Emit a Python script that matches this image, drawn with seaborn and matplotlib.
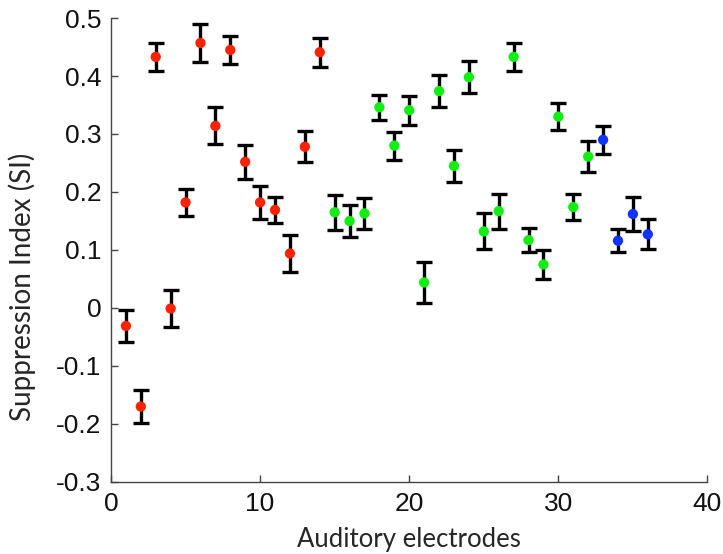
import matplotlib
matplotlib.use("Agg")
import matplotlib.pyplot as plt
import seaborn as sns
import pandas as pd

electrodes = list(range(1, 37))
si_values = [-0.031, -0.170, 0.433, -0.001, 0.182, 0.457, 0.314, 0.445, 0.252, 0.182,
             0.169, 0.094, 0.278, 0.441, 0.165, 0.150, 0.163, 0.346, 0.280, 0.341,
             0.044, 0.374, 0.245, 0.398, 0.132, 0.167, 0.433, 0.117, 0.075, 0.330,
             0.174, 0.261, 0.290, 0.116, 0.162, 0.127]
si_errors = [0.027, 0.029, 0.024, 0.032, 0.024, 0.033, 0.032, 0.024, 0.029, 0.029,
             0.023, 0.032, 0.027, 0.025, 0.030, 0.028, 0.027, 0.022, 0.024, 0.025,
             0.036, 0.028, 0.028, 0.028, 0.031, 0.030, 0.024, 0.021, 0.025, 0.023,
             0.022, 0.027, 0.024, 0.020, 0.030, 0.026]
groups = ["A"] * 14 + ["B"] * 18 + ["C"] * 4
group_colors = {"A": "#ff2200", "B": "#11ee11", "C": "#1133ff"}
x_ticks = [0, 10, 20, 30, 40]
y_ticks = [-0.3, -0.2, -0.1, 0, 0.1, 0.2, 0.3, 0.4, 0.5]
y_tick_labels = ["-0.3", "-0.2", "-0.1", "0", "0.1", "0.2", "0.3", "0.4", "0.5"]

df = pd.DataFrame({"electrode": electrodes, "si": si_values, "err": si_errors, "group": groups})

sns.set_style("ticks")
plt.rcParams["font.family"] = ["Liberation Sans", "DejaVu Sans"]
fig = plt.figure(figsize=(7.23, 5.54), dpi=100)
ax = fig.add_axes([0.1535, 0.130, 0.825, 0.8375])

ax.errorbar(df["electrode"], df["si"], yerr=df["err"], fmt="none", ecolor="black",
            elinewidth=2.4, capsize=5.5, capthick=2.4, zorder=2)
sns.scatterplot(data=df, x="electrode", y="si", hue="group", palette=group_colors,
                s=55, edgecolor="none", legend=False, ax=ax, zorder=3)

ax.set_xlim(0, 40)
ax.set_ylim(-0.3, 0.5)
ax.set_xticks(x_ticks)
ax.set_yticks(y_ticks)
ax.set_yticklabels(y_tick_labels)
ax.tick_params(direction="in", length=5, width=1, color="#444444", labelsize=19, pad=7,
               labelcolor="#111111")
for lab in ax.get_xticklabels() + ax.get_yticklabels():
    lab.set_fontfamily("Liberation Sans")
    lab.set_fontsize(19)
for side in ["top", "right"]:
    ax.spines[side].set_visible(False)
for side in ["left", "bottom"]:
    ax.spines[side].set_color("#444444")
    ax.spines[side].set_linewidth(1)

ax.set_xlabel("Auditory electrodes", family="Lato", fontsize=18.5, labelpad=8)
ax.set_ylabel("Suppression Index (SI)", family="Lato", fontsize=20)
ax.yaxis.set_label_coords(-0.125, 0.42)

fig.savefig("out.png", dpi=100)
